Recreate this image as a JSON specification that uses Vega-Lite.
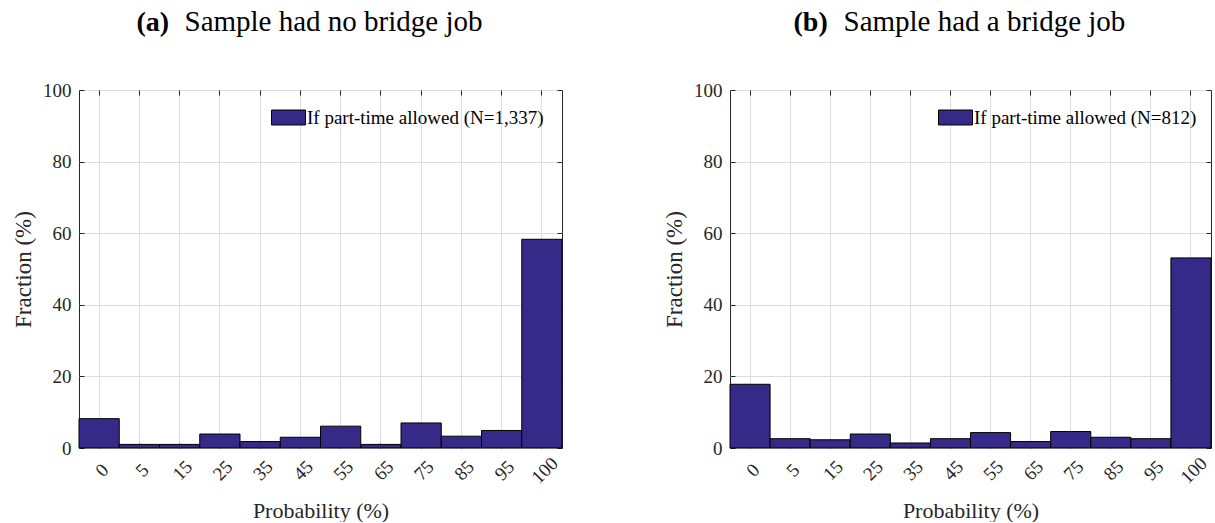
{
  "$schema": "https://vega.github.io/schema/vega-lite/v6.json",
  "padding": {"left": 12, "top": 6, "right": 0, "bottom": 0},
  "background": "white",
  "config": {
    "font": "Liberation Serif",
    "view": {"stroke": "#262626", "strokeWidth": 1},
    "axis": {
      "labelFont": "Liberation Serif", "labelFontSize": 19, "labelColor": "#262626",
      "titleFont": "Liberation Serif", "titleFontSize": 23, "titleColor": "#262626", "titleFontWeight": "normal",
      "gridColor": "#dedede", "gridWidth": 1, "tickColor": "#262626", "domain": false
    },
    "legend": {"labelFont": "Liberation Serif"}
  },
  "datasets": {
    "hist": [
      {"panel": "a", "series": "If part-time allowed (N=1,337)", "prob": "0", "frac": 8.2},
      {"panel": "a", "series": "If part-time allowed (N=1,337)", "prob": "5", "frac": 1.0},
      {"panel": "a", "series": "If part-time allowed (N=1,337)", "prob": "15", "frac": 1.0},
      {"panel": "a", "series": "If part-time allowed (N=1,337)", "prob": "25", "frac": 3.9},
      {"panel": "a", "series": "If part-time allowed (N=1,337)", "prob": "35", "frac": 1.8},
      {"panel": "a", "series": "If part-time allowed (N=1,337)", "prob": "45", "frac": 3.0},
      {"panel": "a", "series": "If part-time allowed (N=1,337)", "prob": "55", "frac": 6.1},
      {"panel": "a", "series": "If part-time allowed (N=1,337)", "prob": "65", "frac": 1.0},
      {"panel": "a", "series": "If part-time allowed (N=1,337)", "prob": "75", "frac": 7.0},
      {"panel": "a", "series": "If part-time allowed (N=1,337)", "prob": "85", "frac": 3.3},
      {"panel": "a", "series": "If part-time allowed (N=1,337)", "prob": "95", "frac": 4.9},
      {"panel": "a", "series": "If part-time allowed (N=1,337)", "prob": "100", "frac": 58.3},
      {"panel": "b", "series": "If part-time allowed (N=812)", "prob": "0", "frac": 17.8},
      {"panel": "b", "series": "If part-time allowed (N=812)", "prob": "5", "frac": 2.6},
      {"panel": "b", "series": "If part-time allowed (N=812)", "prob": "15", "frac": 2.3},
      {"panel": "b", "series": "If part-time allowed (N=812)", "prob": "25", "frac": 3.9},
      {"panel": "b", "series": "If part-time allowed (N=812)", "prob": "35", "frac": 1.4},
      {"panel": "b", "series": "If part-time allowed (N=812)", "prob": "45", "frac": 2.6},
      {"panel": "b", "series": "If part-time allowed (N=812)", "prob": "55", "frac": 4.3},
      {"panel": "b", "series": "If part-time allowed (N=812)", "prob": "65", "frac": 1.8},
      {"panel": "b", "series": "If part-time allowed (N=812)", "prob": "75", "frac": 4.6},
      {"panel": "b", "series": "If part-time allowed (N=812)", "prob": "85", "frac": 3.0},
      {"panel": "b", "series": "If part-time allowed (N=812)", "prob": "95", "frac": 2.6},
      {"panel": "b", "series": "If part-time allowed (N=812)", "prob": "100", "frac": 53.1}
    ]
  },
  "data": {"name": "hist"},
  "spacing": 100,
  "resolve": {"scale": {"color": "independent"}, "legend": {"color": "independent"}},
  "hconcat": [
    {
      "width": 483, "height": 358,
      "transform": [{"filter": "datum.panel === 'a'"}],
      "layer": [
        {
          "mark": {"type": "bar", "stroke": "#000000", "strokeWidth": 1},
          "encoding": {
            "x": {"field": "prob", "type": "ordinal", "sort": ["0","5","15","25","35","45","55","65","75","85","95","100"],
                  "scale": {"paddingInner": 0, "paddingOuter": 0},
                  "axis": {"orient": "bottom", "title": "Probability (%)", "titleFontSize": 22, "labelAngle": -45, "labelAlign": "center", "labelBaseline": "middle", "labelOffset": 3, "tickSize": -5, "labelPadding": 27, "titlePadding": 13, "grid": true, "zindex": 0}},
            "y": {"field": "frac", "type": "quantitative", "scale": {"domain": [0, 100]},
                  "axis": {"orient": "left", "title": "Fraction (%)", "values": [0,20,40,60,80,100], "tickSize": -5, "labelPadding": 13, "titlePadding": 7, "grid": true, "zindex": 0}},
            "color": {"field": "series", "type": "nominal", "scale": {"range": ["#352a87"]},
                      "legend": {"title": null, "orient": "none", "legendX": 192, "legendY": 10, "padding": 0,
                                 "symbolType": "M-1,-0.44H1V0.44H-1Z", "symbolSize": 1156, "symbolStrokeColor": "#000000", "symbolStrokeWidth": 1, "symbolOpacity": 1,
                                 "labelFontSize": 19, "labelColor": "#000000", "labelOffset": 1, "labelLimit": 400}}
          }
        },
        {
          "mark": {"type": "bar", "opacity": 0},
          "encoding": {
            "x": {"field": "prob", "type": "ordinal", "sort": ["0","5","15","25","35","45","55","65","75","85","95","100"],
                  "axis": {"orient": "top", "labels": false, "grid": false, "tickSize": -5, "title": "Sample had no bridge job",
                           "titleFontSize": 29, "titleColor": "#000000", "titleAngle": 0, "titleAlign": "left", "titleBaseline": "alphabetic", "titleX": 105, "titleY": -60}},
            "y": {"field": "frac", "type": "quantitative",
                  "axis": {"orient": "right", "labels": false, "grid": false, "values": [0,20,40,60,80,100], "tickSize": -5, "title": "(a)",
                           "titleFontSize": 28, "titleFontWeight": "bold", "titleColor": "#000000", "titleAngle": 0, "titleAlign": "left", "titleBaseline": "alphabetic", "titleX": -426, "titleY": -60}}
          }
        }
      ],
      "resolve": {"axis": {"x": "independent", "y": "independent"}}
    },
    {
      "width": 481, "height": 358,
      "transform": [{"filter": "datum.panel === 'b'"}],
      "layer": [
        {
          "mark": {"type": "bar", "stroke": "#000000", "strokeWidth": 1},
          "encoding": {
            "x": {"field": "prob", "type": "ordinal", "sort": ["0","5","15","25","35","45","55","65","75","85","95","100"],
                  "scale": {"paddingInner": 0, "paddingOuter": 0},
                  "axis": {"orient": "bottom", "title": "Probability (%)", "titleFontSize": 22, "labelAngle": -45, "labelAlign": "center", "labelBaseline": "middle", "labelOffset": 3, "tickSize": -5, "labelPadding": 27, "titlePadding": 13, "grid": true, "zindex": 0}},
            "y": {"field": "frac", "type": "quantitative", "scale": {"domain": [0, 100]},
                  "axis": {"orient": "left", "title": "Fraction (%)", "values": [0,20,40,60,80,100], "tickSize": -5, "labelPadding": 13, "titlePadding": 7, "grid": true, "zindex": 0}},
            "color": {"field": "series", "type": "nominal", "scale": {"range": ["#352a87"]},
                      "legend": {"title": null, "orient": "none", "legendX": 208, "legendY": 10, "padding": 0,
                                 "symbolType": "M-1,-0.44H1V0.44H-1Z", "symbolSize": 1156, "symbolStrokeColor": "#000000", "symbolStrokeWidth": 1, "symbolOpacity": 1,
                                 "labelFontSize": 19, "labelColor": "#000000", "labelOffset": 1, "labelLimit": 400}}
          }
        },
        {
          "mark": {"type": "bar", "opacity": 0},
          "encoding": {
            "x": {"field": "prob", "type": "ordinal", "sort": ["0","5","15","25","35","45","55","65","75","85","95","100"],
                  "axis": {"orient": "top", "labels": false, "grid": false, "tickSize": -5, "title": "Sample had a bridge job",
                           "titleFontSize": 29, "titleColor": "#000000", "titleAngle": 0, "titleAlign": "left", "titleBaseline": "alphabetic", "titleX": 113, "titleY": -60}},
            "y": {"field": "frac", "type": "quantitative",
                  "axis": {"orient": "right", "labels": false, "grid": false, "values": [0,20,40,60,80,100], "tickSize": -5, "title": "(b)",
                           "titleFontSize": 28, "titleFontWeight": "bold", "titleColor": "#000000", "titleAngle": 0, "titleAlign": "left", "titleBaseline": "alphabetic", "titleX": -418, "titleY": -60}}
          }
        }
      ],
      "resolve": {"axis": {"x": "independent", "y": "independent"}}
    }
  ]
}
